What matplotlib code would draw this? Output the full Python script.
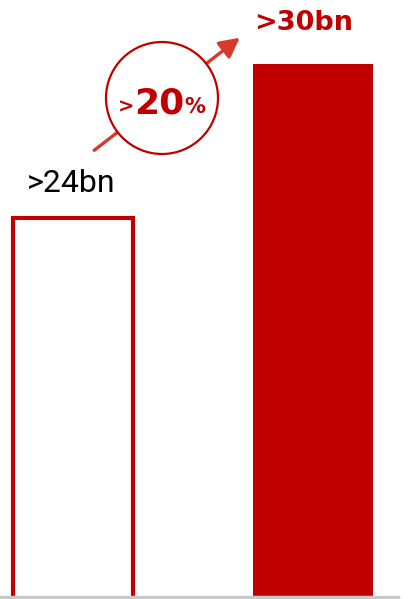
import matplotlib.pyplot as plt
from matplotlib.patches import Circle, FancyArrowPatch

# revenue, bn
periods = ["before", "after"]
values = [24, 30]
labels = [">24bn", ">30bn"]
growth_prefix = ">"
growth_value = "20"
growth_suffix = "%"

red = "#c00000"
arrow_red = "#d63a2a"

fig = plt.figure(figsize=(4.11, 5.99), dpi=100)
ax = fig.add_axes([0, 2 / 599, 1, 597 / 599])
x = range(len(values))

ax.bar(x[0], values[0], width=0.5, bottom=0, facecolor="white",
       edgecolor=red, linewidth=3, zorder=2)
ax.bar(x[1], values[1], width=0.5, bottom=0, color=red, zorder=2)
ax.set_xlim(-0.304, 1.408)
ax.set_ylim(9.23, 32.49)
for s in ax.spines.values():
    s.set_visible(False)
ax.set_xticks([])
ax.set_yticks([])
ax.axhline(9.23, xmin=0, xmax=398 / 411, color="#c8c8c8", linewidth=2.5,
           zorder=3, clip_on=False)

ax.annotate(labels[0], (x[0], values[0]), xytext=(-1, 14), textcoords="offset points",
            ha="center", va="bottom", fontsize=23, color="black",
            family=["Roboto", "DejaVu Sans"], fontweight="normal")
ax.annotate(labels[1], (x[1], values[1]), xytext=(-7, 20), textcoords="offset points",
            ha="center", va="bottom", fontsize=19.5, color=red,
            family="DejaVu Sans", fontweight="bold")

# growth badge in pixel coordinates
ov = fig.add_axes([0, 0, 1, 1])
ov.set_xlim(0, 411)
ov.set_ylim(599, 0)
ov.axis("off")
ov.add_patch(FancyArrowPatch((92, 152), (242, 36), arrowstyle="-|>,head_length=5,head_width=2.6",
                             color=arrow_red, linewidth=2.4, mutation_scale=2.4, zorder=1))
ov.add_patch(Circle((162, 98), 56, facecolor="white", edgecolor=red, linewidth=1.6, zorder=2))
ov.text(126, 113, growth_prefix, ha="center", va="baseline", fontsize=14, color=red,
        family="DejaVu Sans", fontweight="bold", zorder=3)
ov.text(159.5, 114, growth_value, ha="center", va="baseline", fontsize=26, color=red,
        family="DejaVu Sans", fontweight="heavy", zorder=3)
ov.text(195, 113, growth_suffix, ha="center", va="baseline", fontsize=15, color=red,
        family="DejaVu Sans", fontweight="bold", zorder=3)

fig.savefig("out.png", dpi=100)
